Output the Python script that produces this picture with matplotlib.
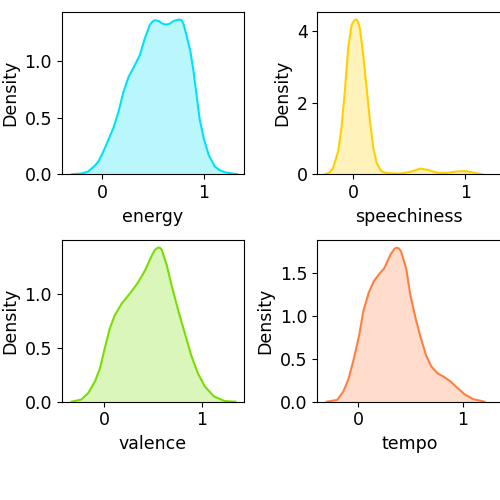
import numpy as np
import matplotlib
matplotlib.use("Agg")
import matplotlib.pyplot as plt

# density curves (x, density)
energy_x = [-0.30, -0.20, -0.14, -0.08, -0.04, 0.00, 0.04, 0.11, 0.16, 0.21, 0.26, 0.32,
            0.37, 0.42, 0.45, 0.47, 0.50, 0.52, 0.56, 0.59, 0.63, 0.67, 0.70, 0.73,
            0.76, 0.78, 0.80, 0.83, 0.87, 0.90, 0.93, 0.96, 1.00, 1.05, 1.11, 1.16,
            1.21, 1.33]
energy_y = [0.0, 0.008, 0.024, 0.07, 0.11, 0.18, 0.26, 0.41, 0.55, 0.73, 0.86, 0.96,
            1.05, 1.20, 1.27, 1.32, 1.35, 1.36, 1.35, 1.33, 1.32, 1.33, 1.35, 1.36,
            1.365, 1.36, 1.33, 1.23, 1.08, 0.91, 0.70, 0.49, 0.32, 0.17, 0.068, 0.035,
            0.018, 0.0]

speech_x = [-0.25, -0.21, -0.18, -0.135, -0.105, -0.075, -0.045, -0.015, 0.01, 0.03,
            0.045, 0.06, 0.09, 0.12, 0.15, 0.18, 0.21, 0.25, 0.29, 0.33, 0.42, 0.51,
            0.60, 0.67, 0.75, 0.84, 0.93, 1.00, 1.08, 1.15]
speech_y = [0.0, 0.05, 0.17, 0.63, 1.28, 2.31, 3.52, 4.17, 4.31, 4.33,
            4.25, 4.07, 3.33, 2.40, 1.47, 0.73, 0.31, 0.09, 0.04, 0.03, 0.02, 0.07,
            0.16, 0.12, 0.04, 0.04, 0.08, 0.09, 0.04, 0.0]

valence_x = [-0.33, -0.23, -0.16, -0.09, -0.04, 0.01, 0.06, 0.11, 0.18, 0.27, 0.35,
             0.42, 0.49, 0.52, 0.55, 0.57, 0.59, 0.64, 0.69, 0.76, 0.83, 0.89, 0.96,
             1.03, 1.12, 1.23, 1.34]
valence_y = [0.0, 0.02, 0.08, 0.19, 0.31, 0.50, 0.68, 0.80, 0.91, 1.01, 1.11,
             1.22, 1.36, 1.41, 1.43, 1.43, 1.41, 1.27, 1.08, 0.84, 0.62, 0.43, 0.26,
             0.14, 0.05, 0.006, 0.0]

tempo_x = [-0.30, -0.20, -0.14, -0.09, -0.04, 0.01, 0.05, 0.10, 0.15, 0.20, 0.25,
           0.31, 0.35, 0.37, 0.39, 0.41, 0.46, 0.50, 0.55, 0.60, 0.65, 0.70, 0.76,
           0.82, 0.89, 0.95, 1.02, 1.10, 1.21]
tempo_y = [0.0, 0.02, 0.12, 0.27, 0.50, 0.77, 1.05, 1.26, 1.40, 1.48, 1.55,
           1.71, 1.78, 1.79, 1.78, 1.75, 1.55, 1.24, 0.97, 0.74, 0.54, 0.41, 0.33,
           0.29, 0.23, 0.16, 0.085, 0.03, 0.0]

names = ["energy", "speechiness", "valence", "tempo"]
colors = ["#00E2F5", "#FFD000", "#78DE00", "#FF7F40"]
curves = [(energy_x, energy_y), (speech_x, speech_y),
          (valence_x, valence_y), (tempo_x, tempo_y)]
xlims = [(-0.40, 1.40), (-0.32, 1.32), (-0.43, 1.43), (-0.39, 1.37)]
yticks = [[0.0, 0.5, 1.0], [0, 2, 4], [0.0, 0.5, 1.0], [0.0, 0.5, 1.0, 1.5]]

boxes = [[0.1234, 0.6514, 0.365, 0.325],
         [0.6346, 0.6514, 0.368, 0.325],
         [0.1234, 0.1966, 0.365, 0.3234],
         [0.6346, 0.1966, 0.368, 0.3234]]

plt.rcParams["font.size"] = 12.5
fig = plt.figure(figsize=(5, 5), dpi=100)

for name, color, (xs, ys), xl, yt, box in zip(names, colors, curves, xlims, yticks, boxes):
    ax = fig.add_axes(box)
    ax.fill_between(xs, ys, color=color, alpha=0.27, linewidth=0)
    ax.plot(xs, ys, color=color, linewidth=1.5)
    ax.set_xlim(*xl)
    ax.set_ylim(0, max(ys) * 1.05)
    ax.set_xticks([0, 1])
    ax.set_yticks(yt)
    ax.set_xlabel(name)
    ax.set_ylabel("Density")

fig.savefig("out.png", dpi=100)
